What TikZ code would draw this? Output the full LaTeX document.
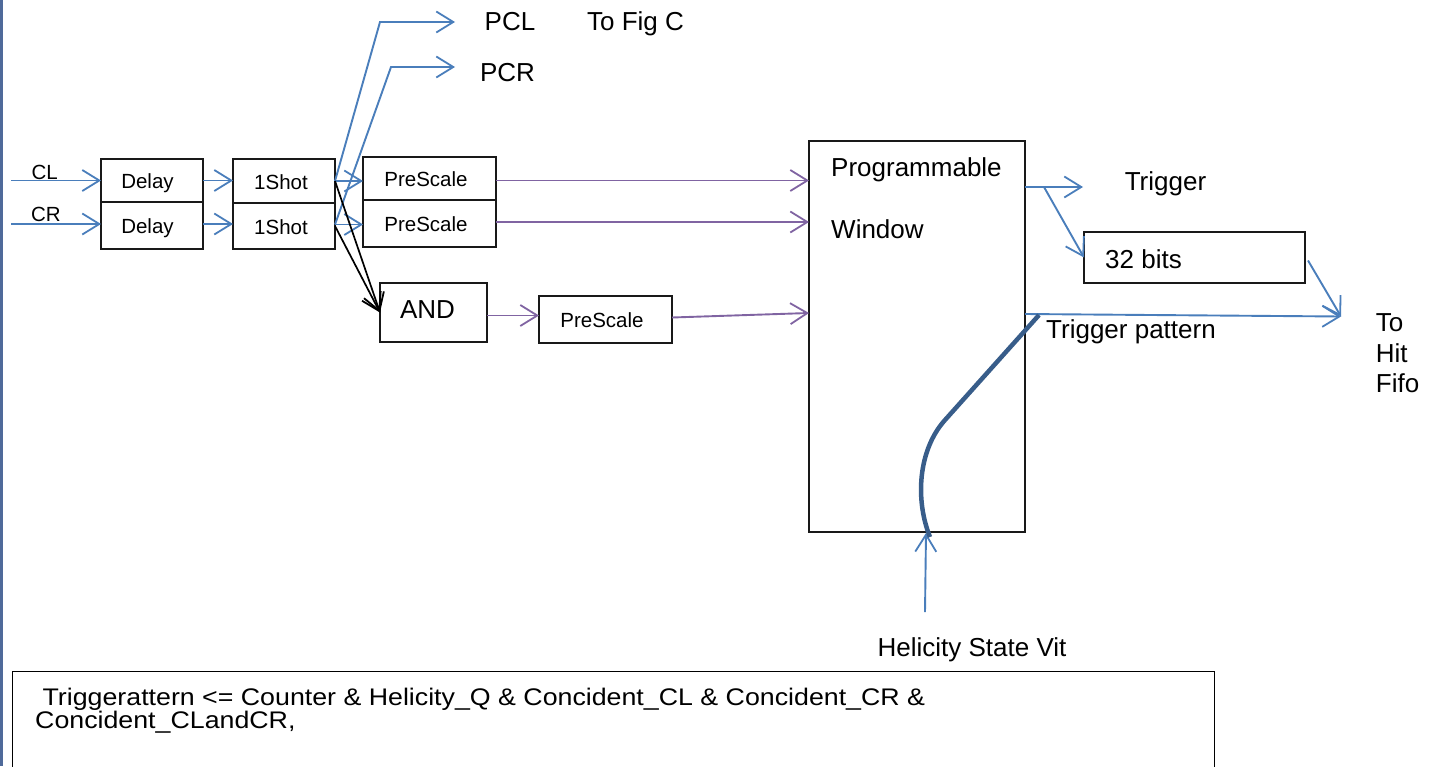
\documentclass[tikz,border=0pt]{standalone}
\usepackage{fontspec}
\setmainfont{Liberation Sans}
\newfontfamily\widefont[FakeStretch=1.115]{Liberation Sans}
\usetikzlibrary{arrows.meta,calc}
\definecolor{cblue}{HTML}{4A7EBB}
\definecolor{cpurple}{HTML}{8064A2}
\definecolor{cdark}{HTML}{385D8A}
\definecolor{cedge}{HTML}{4F6A9A}
\begin{document}
\begin{tikzpicture}[x=1pt,y=-1pt,
  box/.style={draw=black!90, line width=1.5pt, inner sep=0pt, outer sep=0pt, text height=18pt, text depth=2pt, font=\fontsize{20.5}{24}\selectfont},
  bigtxt/.style={inner sep=0pt, font=\fontsize{26}{30}\selectfont},
  smalltxt/.style={inner sep=0pt, font=\fontsize{20.5}{24}\selectfont},
  tip/.style={-{Straight Barb[length=17pt,width=21pt,line width=1.8pt]}},
  bluearrow/.style={tip, draw=cblue, line width=1.9pt},
  purplearrow/.style={tip, draw=cpurple, line width=1.9pt},
  blackarrow/.style={tip, draw=black, line width=1.7pt}
]
\useasboundingbox (0,0) rectangle (1437,766);
% left edge line
\draw[cedge, line width=2.6pt] (1.5,0) -- (1.5,766);

% boxes
\node[box, minimum width=102pt, minimum height=43pt] (d1) at (152,180.5) {Delay\kern9pt};
\node[box, minimum width=102pt, minimum height=47pt] (d2) at (152,225.5) {Delay\kern9pt};
\node[box, minimum width=102pt, minimum height=44pt] (s1) at (284,181) {1Shot\kern6pt};
\node[box, minimum width=102pt, minimum height=46pt] (s2) at (284,226) {1Shot\kern6pt};
\node[box, minimum width=133pt, minimum height=43pt] (p1) at (429.5,178.5) {PreScale\kern7pt};
\node[box, minimum width=133pt, minimum height=47pt] (p2) at (429.5,223.5) {PreScale\kern7pt};
\node[box, minimum width=107pt, minimum height=59pt, text height=16pt, text depth=5pt, font=\fontsize{26}{30}\selectfont] (and) at (433.5,312.5) {AND\kern12pt};
\node[box, minimum width=133pt, minimum height=47pt] (p3) at (605.5,319.5) {PreScale\kern7pt};
\node[box, minimum width=216pt, minimum height=391pt] (prog) at (917,336.5) {};
\node[box, minimum width=221pt, minimum height=51pt] (bits) at (1194.5,257.5) {};

% texts
\node[smalltxt, anchor=base] (cl) at (44.7,179) {CL};
\node[smalltxt, anchor=base] (cr) at (46,221.7) {CR};
\node[bigtxt, anchor=base] (pcl) at (510,30) {PCL};
\node[bigtxt, anchor=base] (tofig) at (635.5,30) {To Fig C};
\node[bigtxt, anchor=base] (pcr) at (507.5,81.7) {PCR};
\node[bigtxt, anchor=base west] (progt) at (831,176.7) {Programmable};
\node[bigtxt, anchor=base west] (wint) at (831,238.3) {Window};
\node[bigtxt, anchor=base] (trig) at (1165.5,190) {Trigger};
\node[bigtxt, anchor=base west] (bitst) at (1105,268.3) {32 bits};
\node[bigtxt, anchor=base west] (tpat) at (1046,338.3) {Trigger pattern};
\node[bigtxt, anchor=base west, align=left, font=\fontsize{26}{30.3}\selectfont] (fifo) at (1375.7,392.3) {To\\Hit\\Fifo};
\node[bigtxt, anchor=base] (hel) at (972,656) {Helicity State Vit};

% coordinates
\coordinate (cl0) at (11,180.5);
\coordinate (cr0) at (11,224);
\coordinate (pclk) at (380,22);
\coordinate (pclt) at (455,22);
\coordinate (pcrk) at (391,67);
\coordinate (pcrt) at (455,67);
\coordinate (trigt) at (1083,187);
\coordinate (br) at (1044,187);
\coordinate (fifot) at (1341,316.5);
\coordinate (tp0) at (1025,314);
\coordinate (pin3) at (809,313);
\coordinate (hel0) at (925,612);
\coordinate (helt) at (926,533);
\coordinate (cv0) at (1039,315);
\coordinate (cv1) at (945,420);
\coordinate (cv2) at (930,537);

% inputs
\draw[bluearrow] (cl0) -- (cl0 -| d1.west);
\draw[bluearrow] (cr0) -- (cr0 -| d2.west);
\draw[bluearrow] (d1.east) -- (d1.east -| s1.west);
\draw[bluearrow] (d2.east |- 0,224) -- (s2.west |- 0,224);
\draw[bluearrow] (s1.east) -- (s1.east -| p1.west);
\draw[bluearrow] (s2.east |- 0,224.5) -- (p2.west |- 0,224.5);

% to PCL / PCR
\draw[bluearrow] (s1.east) -- (pclk) -- (pclt);
\draw[bluearrow] (s2.east |- 0,224.5) -- (pcrk) -- (pcrt);

% to AND
\draw[blackarrow] (s1.east) -- (and.west);
\draw[blackarrow] (s2.east) -- (and.west);

% purple
\draw[purplearrow] (p1.east |- 0,180.5) -- (prog.west |- 0,180.5);
\draw[purplearrow] (p2.east |- 0,222) -- (prog.west |- 0,222);
\draw[purplearrow] (and.east |- 0,315.5) -- (p3.west |- 0,315.5);
\draw[purplearrow] (p3.east |- 0,317.5) -- (pin3);

% outputs
\draw[bluearrow] (prog.east |- trigt) -- (trigt);
\draw[bluearrow] (br) -- (bits.west);
\draw[bluearrow] ($(bits.east)+(3,3)$) -- (fifot);
\draw[bluearrow] (tp0) -- (fifot);

% helicity
\draw[bluearrow] (hel0) -- (helt);
\draw[cdark, line width=4.5pt] (cv0) -- (cv1) .. controls (918,450) and (915,500) .. (cv2);

% bottom text box
\draw[black, line width=1.5pt] (12.5,770) -- (12.5,671.5) -- (1214.5,671.5) -- (1214.5,770);
\node[inner sep=0pt, anchor=base west, align=left, font=\widefont\fontsize{24}{23.3}\selectfont] (eq) at (35,728.3)
  {\ Triggerattern <= Counter \& Helicity\_Q \& Concident\_CL \& Concident\_CR \&\\Concident\_CLandCR,};
\end{tikzpicture}
\end{document}
